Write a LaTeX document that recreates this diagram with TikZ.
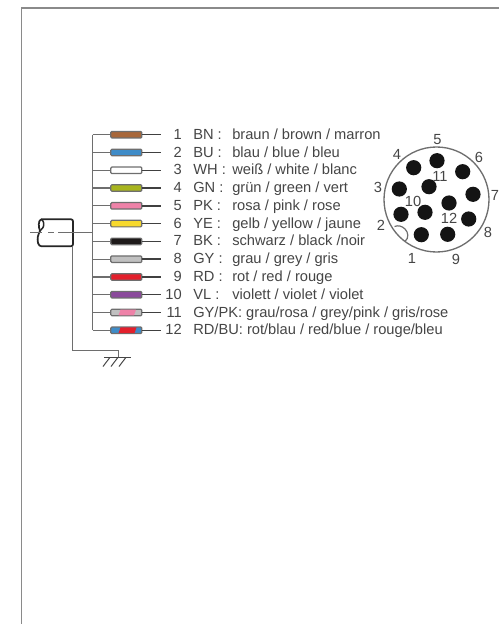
\documentclass[tikz,border=0pt]{standalone}
\usepackage{fontspec}
\setmainfont{Liberation Sans}
\definecolor{txt}{HTML}{454545}
\definecolor{linegray}{HTML}{6E6E6E}
\definecolor{framegray}{HTML}{8A8A8A}
\definecolor{cBN}{HTML}{A8673A}
\definecolor{cBU}{HTML}{3F8CC8}
\definecolor{cWH}{HTML}{FFFFFF}
\definecolor{cGN}{HTML}{A8B51E}
\definecolor{cPK}{HTML}{EE82A8}
\definecolor{cYE}{HTML}{F7D92E}
\definecolor{cBK}{HTML}{1E1A1A}
\definecolor{cGY}{HTML}{C0C0C0}
\definecolor{cRD}{HTML}{E3202C}
\definecolor{cVL}{HTML}{8B4A9C}
\tikzset{
  wirebox/.style={draw=linegray,line width=0.9pt,rounded corners=0.8pt,fill=#1,minimum width=23.2pt,minimum height=4.9pt,inner sep=0pt,outer sep=0pt},
  busline/.style={draw=linegray,line width=1pt},
  tailline/.style={draw=black!75,line width=1.1pt},
  num/.style={anchor=base east,text=txt,font=\fontsize{11}{12}\selectfont,inner sep=0pt},
  lbl/.style={anchor=base west,text=txt,font=\fontsize{11}{12}\selectfont,inner sep=0pt},
  pin/.style={circle,fill=black!92,minimum size=11.4pt,inner sep=0pt},
  pinlbl/.style={text=txt,font=\fontsize{11}{12}\selectfont,inner sep=0pt},
}
\begin{document}
\begin{tikzpicture}[x=0.75pt,y=-0.75pt]
\useasboundingbox (0,0) rectangle (499,624);
% frame
\draw[framegray,line width=0.9pt] (21.5,624) -- (21.5,8) -- (499,8);
% cable junction and bus
\coordinate (bustop) at (92.7,134.7);
\coordinate (busmid) at (92.7,232.7);
\coordinate (busbot) at (92.7,330.3);
\coordinate (cablein) at (30,232.7);
\coordinate (cableend) at (73,232.7);
\draw[busline] (bustop) -- (busbot);
% wires
\foreach \n/\col/\y in {1/cBN/134.7,2/cBU/152.5,3/cWH/170.3,4/cGN/188.0,5/cPK/205.8,6/cYE/223.6,7/cBK/241.4,8/cGY/259.2,9/cRD/277.0,10/cVL/294.7,11/cGY/312.5,12/cBU/330.3}{
  \node[wirebox=\col] (w\n) at (126.3,\y) {};
  \coordinate (b\n) at (92.7,\y);
  \coordinate (t\n) at (161,\y);
  \draw[busline] (b\n) -- (w\n.west);
  \draw[tailline] (w\n.east) -- (t\n);
}
% stripes
\fill[cPK] (120.5,309.6) -- (136,309.6) -- (134,315.4) -- (118.5,315.4) -- cycle;
\fill[cRD] (120.5,327.4) -- (136.5,327.4) -- (134.5,333.2) -- (118.5,333.2) -- cycle;
% labels
\foreach \n/\y in {1/139.2,2/157,3/174.8,4/192.5,5/210.3,6/228.1,7/245.9,8/263.7,9/281.5,10/299.2,11/317,12/334.8}{
  \node[num] (n\n) at (182,\y) {\n};
}
\node[lbl] (c1) at (193,139.2) {BN :};  \node[lbl] (d1) at (232,139.2) {braun / brown / marron};
\node[lbl] (c2) at (193,157) {BU :};    \node[lbl] (d2) at (232,157) {blau / blue / bleu};
\node[lbl] (c3) at (193,174.8) {WH :};  \node[lbl] (d3) at (232,174.8) {weiß / white / blanc};
\node[lbl] (c4) at (193,192.5) {GN :};  \node[lbl] (d4) at (232,192.5) {grün / green / vert};
\node[lbl] (c5) at (193,210.3) {PK :};  \node[lbl] (d5) at (232,210.3) {rosa / pink / rose};
\node[lbl] (c6) at (193,228.1) {YE :};  \node[lbl] (d6) at (232,228.1) {gelb / yellow / jaune};
\node[lbl] (c7) at (193,245.9) {BK :};  \node[lbl] (d7) at (232,245.9) {schwarz / black /noir};
\node[lbl] (c8) at (193,263.7) {GY :};  \node[lbl] (d8) at (232,263.7) {grau / grey / gris};
\node[lbl] (c9) at (193,281.5) {RD :};  \node[lbl] (d9) at (232,281.5) {rot / red / rouge};
\node[lbl] (c10) at (193,299.2) {VL :}; \node[lbl] (d10) at (232,299.2) {violett / violet / violet};
\node[lbl] (c11) at (193,317) {GY/PK: grau/rosa / grey/pink / gris/rose};
\node[lbl] (c12) at (193,334.8) {RD/BU: rot/blau / red/blue / rouge/bleu};
% cable
\draw[line width=1.3pt,draw=black!85,rounded corners=1.5pt] (41,219.3) -- (73,219.3) -- (73,246.2) -- (41,246.2);
\draw[line width=1.3pt,draw=black!85] (41,219.3) .. controls (38,221) and (38.5,227) .. (40,231) .. controls (38,235) and (37,238) .. (38,243) .. controls (38.5,245) and (40,246.2) .. (41,246.2);
\draw[line width=1.1pt,draw=black!85] (41,219.3) .. controls (44,220.5) and (44.5,225) .. (43,227.5) -- (40,231);
\draw[busline,line width=0.8pt] (cablein) -- (42,232.7);
\draw[busline,line width=0.8pt] (48,232.7) -- (54,232.7) (58,232.7) -- (cableend);
\draw[busline] (cableend) -- (busmid);
% shield and ground
\coordinate (sh0) at (72.3,246.2);
\coordinate (sh1) at (72.3,350.7);
\coordinate (sh2) at (118.7,350.7);
\coordinate (gnd) at (118.7,357.3);
\coordinate (gndl) at (104,357.3);
\coordinate (gndr) at (131,357.3);
\draw[busline] (sh0) -- (sh1) -- (sh2) -- (gnd);
\draw[txt,line width=0.75pt] (gndl) -- (gndr);
\draw[txt,line width=0.75pt] (110,357.3) -- (103,366.5) (118,357.3) -- (111,366.5) (126,357.3) -- (119,366.5);
% connector
\coordinate (cc) at (436.5,199.5);
\draw[linegray,line width=1pt] (cc) circle[radius=52.5];
\draw[linegray,line width=0.9pt] (394.5,226.5) .. controls (398,225) and (402,226) .. (405,229) .. controls (408.5,232.5) and (409,238) .. (405,241.5);
\foreach \n/\x/\y in {5/437/160.7,4/413.7/167.7,6/462.7/171.7,3/399.3/189,11/429/186.7,7/473/194.3,10/425/212.3,p12/449/203,2/401/214.3,8/468.7/219,1/421.3/234.7,9/447.7/234.3}{
  \node[pin] (pin\n) at (\x,\y) {};
}
\node[pinlbl] (l5) at (437.5,140) {5};
\node[pinlbl] (l4) at (397,154.5) {4};
\node[pinlbl] (l6) at (479,157) {6};
\node[pinlbl] (l3) at (378,187) {3};
\node[pinlbl] (l11) at (440,176) {11};
\node[pinlbl] (l7) at (495,195) {7};
\node[pinlbl] (l10) at (413,201) {10};
\node[pinlbl] (l12) at (449,218) {12};
\node[pinlbl] (l2) at (381,225) {2};
\node[pinlbl] (l8) at (488,232) {8};
\node[pinlbl] (l1) at (412,258.5) {1};
\node[pinlbl] (l9) at (456,259) {9};
\end{tikzpicture}
\end{document}
